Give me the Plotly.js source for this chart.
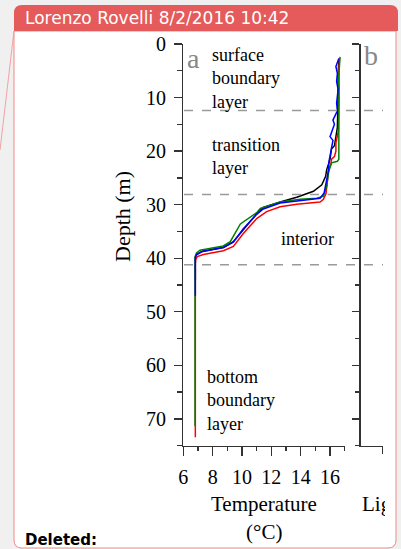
<!DOCTYPE html>
<html>
<head>
<meta charset="utf-8">
<script src="https://cdn.plot.ly/plotly-3.0.1.min.js"></script>
<style>
html,body{margin:0;padding:0;background:#f0f0f0;}
#chart{width:401px;height:549px;}
</style>
</head>
<body>
<div id="chart"></div>
<script>
// ---- data ----
const seriesNames = ["black", "red", "green", "blue"];

const blackDepth = [3, 6, 10, 13, 15.6, 19, 19.6, 21.5, 23.5, 24.7, 26.3, 27.5, 28.6, 29.5, 30.5, 31.7, 34.6, 36.9, 38.0, 38.7, 39.3, 39.8, 44];
const blackTemp  = [16.6, 16.55, 16.55, 16.5, 16.5, 16.3, 16.1, 16.0, 15.77, 15.7, 15.44, 14.87, 13.73, 12.6, 11.45, 11.0, 10.09, 9.41, 8.73, 7.3, 6.9, 6.82, 6.82];

const redDepth = [2.6, 5, 8, 11, 14, 16.2, 18.5, 20, 21, 21.5, 22.5, 23.5, 24.7, 26.1, 27.9, 29.0, 29.5, 29.9, 30.4, 31.3, 32.6, 35.4, 37.8, 38.6, 39.3, 39.7, 40.2, 41, 50, 60, 70, 73.4];
const redTemp  = [16.65, 16.6, 16.62, 16.6, 16.58, 16.57, 16.4, 16.4, 16.3, 16.1, 16.05, 15.9, 15.85, 15.8, 15.73, 15.55, 15.32, 13.73, 12.6, 11.68, 11.0, 10.09, 9.41, 8.73, 7.37, 6.95, 6.85, 6.82, 6.82, 6.82, 6.82, 6.82];

const greenDepth = [2.4, 5, 7.3, 10, 14, 18, 19.7, 21.5, 21.9, 22.2, 23.5, 24, 26.6, 28.4, 28.8, 29.0, 29.5, 30.7, 31.5, 33.6, 36.9, 37.7, 38.5, 39.0, 39.6, 41, 50, 60, 71.3];
const greenTemp  = [16.68, 16.63, 16.57, 16.6, 16.6, 16.6, 16.63, 16.6, 16.5, 16.1, 15.95, 15.9, 15.77, 15.55, 15.1, 13.96, 12.6, 11.25, 11.0, 9.89, 9.2, 8.73, 7.14, 6.9, 6.82, 6.8, 6.8, 6.8, 6.8];

const blueDepth = [2.7, 3.5, 4.2, 5.5, 7, 8.5, 9.8, 11, 12.5, 13.5, 14.2, 15, 16, 17.3, 18, 19.4, 20.5, 21.9, 23.5, 25.3, 27.8, 28.8, 29.2, 29.7, 30.8, 31.8, 34.5, 37.0, 38.0, 38.8, 39.3, 39.8, 47];
const blueTemp  = [16.6, 16.5, 16.4, 16.5, 16.45, 16.55, 16.5, 16.45, 16.5, 16.3, 16.2, 16.3, 16.15, 16.0, 16.2, 16.1, 16.0, 15.93, 15.9, 15.77, 15.6, 15.32, 13.96, 12.6, 11.45, 11.0, 10.09, 9.41, 8.73, 7.25, 6.91, 6.82, 6.82];

const layerBoundaries = [12.4, 28.1, 41.2];
const tempTicks = [6, 8, 10, 12, 14, 16];
const tempMinorTicks = [7, 9, 11, 13, 15, 17];
const depthTicks = [0, 10, 20, 30, 40, 50, 60, 70];
const depthMinorTicks = [5, 15, 25, 35, 45, 55, 65, 75];
const regionLabels = ["surface<br>boundary<br>layer", "transition<br>layer", "interior", "bottom<br>boundary<br>layer"];

// ---- layout helpers (pixel -> paper) ----
const W = 401, H = 549;
const px = x => x / W;
const py = y => 1 - y / H;

const colors = {black: "#000000", red: "#ff0000", green: "#008000", blue: "#0000ff"};
const dataMap = {
  black: [blackTemp, blackDepth],
  red: [redTemp, redDepth],
  green: [greenTemp, greenDepth],
  blue: [blueTemp, blueDepth]
};
const traces = seriesNames.map(n => ({
  type: "scatter", mode: "lines", name: n,
  x: dataMap[n][0], y: dataMap[n][1],
  xaxis: "x", yaxis: "y",
  line: {color: colors[n], width: 1.5},
  showlegend: false, hoverinfo: "skip"
}));

const serif = "Liberation Serif, Times New Roman, serif";
const axCol = "#333333";

const yDom = [py(445.7), py(44)];

const shapes = [];
// connector line
shapes.push({type: "line", xref: "paper", yref: "paper", x0: px(14), y0: py(31), x1: px(0), y1: py(150), line: {color: "#f2a3a3", width: 1}, layer: "below"});
// balloon body
const r = 8;
const bodyPath = `M ${px(14)} ${py(31)} L ${px(14)} ${py(548 - r)} Q ${px(14)} ${py(548)} ${px(14 + r)} ${py(548)} L ${px(396 - r)} ${py(548)} Q ${px(396)} ${py(548)} ${px(396)} ${py(548 - r)} L ${px(396)} ${py(31)} Z`;
shapes.push({type: "path", xref: "paper", yref: "paper", path: bodyPath, fillcolor: "#ffffff", line: {color: "#f08a8a", width: 1}, layer: "below"});
// header
const hPath = `M ${px(14)} ${py(31)} L ${px(14)} ${py(5 + r)} Q ${px(14)} ${py(5)} ${px(14 + r)} ${py(5)} L ${px(398 - r)} ${py(5)} Q ${px(398)} ${py(5)} ${px(398)} ${py(5 + r)} L ${px(398)} ${py(31)} Z`;
shapes.push({type: "path", xref: "paper", yref: "paper", path: hPath, fillcolor: "#e55a5a", line: {width: 0}, layer: "below"});
// dashed layer boundaries
layerBoundaries.forEach(d => shapes.push({
  type: "line", xref: "paper", yref: "y", x0: px(184), x1: px(383), y0: d, y1: d,
  line: {color: "#9a9a9a", width: 1.5, dash: "dash"}
}));

const annotations = [
  {xref: "paper", yref: "paper", x: px(23), y: py(18), xanchor: "left", yanchor: "middle", showarrow: false,
   text: "Lorenzo Rovelli 8/2/2016 10:42", font: {family: "DejaVu Sans, Verdana, sans-serif", size: 17, color: "#ffffff"}},
  {xref: "paper", yref: "paper", x: px(23), y: py(540), xanchor: "left", yanchor: "middle", showarrow: false,
   text: "<b>Deleted:</b>", font: {family: "DejaVu Sans, Verdana, sans-serif", size: 15, color: "#000000"}},
  {xref: "paper", yref: "paper", x: px(185), y: py(58), xanchor: "left", yanchor: "middle", showarrow: false,
   text: "a", font: {family: serif, size: 28, color: "#888888"}},
  {xref: "paper", yref: "paper", x: px(362), y: py(56), xanchor: "left", yanchor: "middle", showarrow: false,
   text: "b", font: {family: serif, size: 28, color: "#888888"}},
  {xref: "paper", yref: "paper", x: px(210), y: py(79), xanchor: "left", yanchor: "middle", showarrow: false, align: "left",
   text: regionLabels[0], font: {family: serif, size: 18, color: "#000"}},
  {xref: "paper", yref: "paper", x: px(210), y: py(156.5), xanchor: "left", yanchor: "middle", showarrow: false, align: "left",
   text: regionLabels[1], font: {family: serif, size: 18, color: "#000"}},
  {xref: "paper", yref: "paper", x: px(307.7), y: py(239.3), xanchor: "center", yanchor: "middle", showarrow: false,
   text: regionLabels[2], font: {family: serif, size: 18, color: "#000"}},
  {xref: "paper", yref: "paper", x: px(205), y: py(400), xanchor: "left", yanchor: "middle", showarrow: false, align: "left",
   text: regionLabels[3], font: {family: serif, size: 18, color: "#000"}},
  {xref: "paper", yref: "paper", x: px(263.8), y: py(504), xanchor: "center", yanchor: "middle", showarrow: false,
   text: "Temperature", font: {family: serif, size: 21, color: "#000"}},
  {xref: "paper", yref: "paper", x: px(263.5), y: py(532), xanchor: "center", yanchor: "middle", showarrow: false,
   text: "(°C)", font: {family: serif, size: 21, color: "#000"}},
  {xref: "paper", yref: "paper", x: px(123), y: py(217), xanchor: "center", yanchor: "middle", showarrow: false, textangle: -90,
   text: "Depth (m)", font: {family: serif, size: 22, color: "#000"}},
  {xref: "paper", yref: "paper", x: px(359.5), y: py(504), xanchor: "left", yanchor: "middle", showarrow: false,
   text: "Lig", font: {family: serif, size: 21, color: "#000"}},
  // white cover clipping the cropped figure at its right edge
  {xref: "paper", yref: "paper", x: px(385), y: py(504), xanchor: "left", yanchor: "middle", showarrow: false,
   text: " ", width: 9, height: 34, bgcolor: "#ffffff", borderpad: 0, borderwidth: 0}
];

const layout = {
  width: W, height: H,
  margin: {l: 0, r: 0, t: 0, b: 0},
  paper_bgcolor: "#f0f0f0",
  plot_bgcolor: "rgba(0,0,0,0)",
  showlegend: false,
  xaxis: {
    domain: [px(183.3), px(344.7)], range: [6, 17], anchor: "y",
    tickmode: "array", tickvals: tempTicks, ticks: "outside", ticklen: 9, tickwidth: 1.3, tickcolor: axCol,
    minor: {tickmode: "array", tickvals: tempMinorTicks, ticks: "outside", ticklen: 4, tickwidth: 1.3, tickcolor: axCol, showgrid: false},
    showline: true, linecolor: axCol, linewidth: 1.3, showgrid: false, zeroline: false,
    tickfont: {family: serif, size: 20, color: "#000"}, ticklabelstandoff: 4
  },
  yaxis: {
    domain: yDom, range: [75, 0], anchor: "x",
    tickmode: "array", tickvals: depthTicks, ticks: "outside", ticklen: 8, tickwidth: 1.3, tickcolor: axCol,
    minor: {tickmode: "array", tickvals: depthMinorTicks, ticks: "outside", ticklen: 5, tickwidth: 1.3, tickcolor: axCol, showgrid: false},
    showline: true, linecolor: axCol, linewidth: 1.3, showgrid: false, zeroline: false,
    tickfont: {family: serif, size: 20, color: "#000"}, ticklabelstandoff: 4
  },
  xaxis2: {
    domain: [px(360.7), px(382.7)], range: [0, 1], anchor: "y2",
    tickmode: "array", tickvals: [1], ticks: "outside", ticklen: 7, tickwidth: 1.3, tickcolor: axCol,
    showticklabels: false, showline: true, linecolor: axCol, linewidth: 1.3, showgrid: false, zeroline: false
  },
  yaxis2: {
    domain: yDom, range: [75, 0], anchor: "x2",
    tickmode: "array", tickvals: depthTicks, ticks: "outside", ticklen: 7, tickwidth: 1.3, tickcolor: axCol,
    minor: {tickmode: "array", tickvals: depthMinorTicks, ticks: "outside", ticklen: 4, tickwidth: 1.3, tickcolor: axCol, showgrid: false},
    showticklabels: false, showline: true, linecolor: axCol, linewidth: 1.3, showgrid: false, zeroline: false
  },
  shapes: shapes,
  annotations: annotations
};

// empty trace to make the second panel's axes appear
traces.push({type: "scatter", mode: "lines", x: [], y: [], xaxis: "x2", yaxis: "y2", showlegend: false, hoverinfo: "skip"});

Plotly.newPlot("chart", traces, layout, {staticPlot: true, displayModeBar: false});
</script>
</body>
</html>
